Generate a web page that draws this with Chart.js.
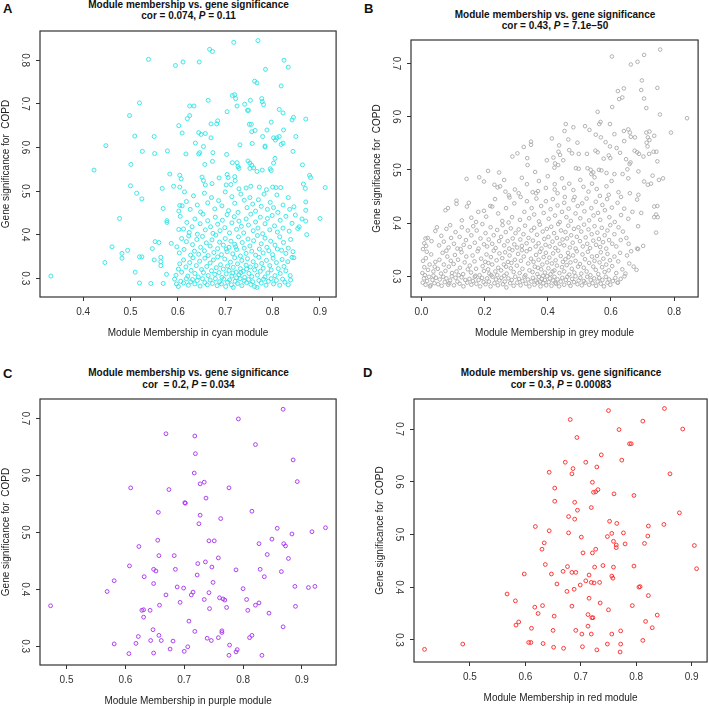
<!DOCTYPE html>
<html>
<head>
<meta charset="utf-8">
<script src="https://cdn.jsdelivr.net/npm/chart.js@4.4.0/dist/chart.umd.min.js"></script>
<style>
html, body { margin: 0; padding: 0; background: #fff; overflow: hidden; }
#wrap { position: relative; width: 709px; height: 707px; overflow: hidden; font-family: "Liberation Sans", Arial, sans-serif; color: #111; }
#wrap canvas { position: absolute; }
.titulo { position: absolute; width: 300px; text-align: center; font-weight: bold; font-size: 10px; line-height: 11.5px; white-space: pre; }
.letra { position: absolute; font-weight: bold; font-size: 13px; line-height: 13px; }
</style>
</head>
<body>
<div id="wrap">
  <div class="letra" style="left:3px;top:2px">A</div>
  <div class="letra" style="left:364px;top:1.5px">B</div>
  <div class="letra" style="left:3px;top:366.5px">C</div>
  <div class="letra" style="left:363px;top:365.5px">D</div>
  <div class="titulo" style="left:38.5px;top:-1.2px">Module membership vs. gene significance<br>cor = 0.074, <i>P</i> = 0.11</div>
  <div class="titulo" style="left:405px;top:8.5px">Module membership vs. gene significance<br>cor = 0.43, <i>P</i> = 7.1e−50</div>
  <div class="titulo" style="left:38.5px;top:367px">Module membership vs. gene significance<br>cor  = 0.2, <i>P</i> = 0.034</div>
  <div class="titulo" style="left:411px;top:367px">Module membership vs. gene significance<br>cor = 0.3, <i>P</i> = 0.00083</div>
</div>
<script>
// puntos [MM, GS]
const cyanPoints = [
  [0.718,0.841],[0.769,0.845],[0.667,0.825],[0.673,0.820],[0.538,0.802],[0.595,0.788],[0.611,0.796],[0.645,0.796],[0.824,0.800],[0.833,0.784],
  [0.785,0.779],[0.762,0.752],[0.767,0.748],[0.818,0.741],[0.519,0.702],[0.498,0.673],[0.625,0.695],[0.634,0.695],[0.664,0.708],[0.715,0.719],
  [0.720,0.721],[0.722,0.712],[0.725,0.695],[0.741,0.699],[0.753,0.708],[0.777,0.712],[0.778,0.705],[0.781,0.698],[0.704,0.682],[0.747,0.685],
  [0.749,0.685],[0.814,0.687],[0.822,0.679],[0.844,0.669],[0.841,0.663],[0.870,0.665],[0.625,0.673],[0.620,0.666],[0.602,0.650],[0.609,0.633],
  [0.682,0.654],[0.670,0.654],[0.684,0.661],[0.751,0.653],[0.755,0.653],[0.756,0.636],[0.763,0.639],[0.797,0.658],[0.788,0.640],[0.823,0.640],
  [0.814,0.625],[0.802,0.622],[0.806,0.617],[0.809,0.622],[0.779,0.625],[0.822,0.610],[0.818,0.607],[0.849,0.625],[0.784,0.603],[0.784,0.601],
  [0.757,0.609],[0.731,0.606],[0.644,0.634],[0.649,0.630],[0.658,0.632],[0.670,0.622],[0.637,0.610],[0.654,0.602],[0.674,0.588],[0.646,0.588],
  [0.644,0.585],[0.617,0.585],[0.578,0.592],[0.550,0.625],[0.509,0.626],[0.525,0.591],[0.551,0.586],[0.448,0.604],[0.423,0.548],[0.501,0.561],
  [0.657,0.561],[0.673,0.568],[0.703,0.584],[0.715,0.565],[0.725,0.565],[0.727,0.556],[0.729,0.552],[0.748,0.569],[0.752,0.564],[0.756,0.559],
  [0.760,0.553],[0.767,0.545],[0.752,0.552],[0.778,0.548],[0.795,0.551],[0.797,0.547],[0.802,0.564],[0.805,0.575],[0.843,0.591],[0.863,0.560],
  [0.878,0.536],[0.880,0.531],[0.583,0.539],[0.604,0.536],[0.607,0.528],[0.651,0.532],[0.654,0.524],[0.687,0.530],[0.704,0.538],[0.706,0.531],
  [0.720,0.533],
  [0.332,0.305],[0.446,0.336],[0.461,0.372],[0.477,0.437],[0.482,0.357],[0.482,0.346],[0.494,0.364],[0.510,0.314],[0.519,0.289],[0.519,0.349],
  [0.524,0.349],[0.543,0.288],[0.546,0.368],[0.550,0.342],[0.552,0.384],[0.560,0.382],[0.564,0.348],[0.564,0.338],[0.564,0.329],[0.569,0.288],
  [0.569,0.460],[0.576,0.309],[0.577,0.432],[0.577,0.428],[0.586,0.380],[0.500,0.512],[0.513,0.495],[0.524,0.482],[0.567,0.506],[0.591,0.511],
  [0.604,0.509],[0.614,0.498],[0.604,0.467],[0.609,0.466],[0.602,0.454],[0.602,0.412],
  [0.865,0.516],[0.869,0.506],[0.911,0.508],[0.809,0.491],[0.833,0.485],[0.870,0.475],[0.870,0.456],[0.870,0.431],[0.872,0.400],[0.853,0.414],
  [0.900,0.437],[0.807,0.508],[0.817,0.508],
  [0.593,0.298],[0.597,0.287],[0.601,0.281],[0.606,0.293],[0.612,0.289],[0.618,0.299],[0.622,0.284],[0.627,0.292],[0.631,0.297],[0.636,0.287],
  [0.641,0.295],[0.647,0.282],[0.652,0.299],[0.657,0.290],[0.662,0.285],[0.668,0.296],[0.673,0.288],[0.679,0.299],[0.683,0.283],[0.688,0.292],
  [0.692,0.287],[0.697,0.298],[0.701,0.281],[0.705,0.291],[0.709,0.296],[0.713,0.285],[0.717,0.279],[0.721,0.293],[0.726,0.288],[0.731,0.299],
  [0.735,0.283],[0.740,0.294],[0.745,0.290],[0.749,0.297],[0.754,0.286],[0.758,0.292],[0.762,0.281],[0.767,0.279],[0.771,0.295],[0.776,0.289],
  [0.781,0.298],[0.786,0.284],[0.791,0.293],[0.797,0.299],[0.802,0.287],[0.808,0.295],[0.815,0.284],[0.821,0.298],[0.826,0.291],[0.833,0.285],
  [0.838,0.296],
  [0.596,0.307],[0.601,0.321],[0.604,0.333],[0.608,0.314],[0.612,0.342],[0.617,0.326],[0.621,0.305],[0.625,0.336],[0.628,0.318],[0.632,0.347],
  [0.636,0.311],[0.639,0.329],[0.643,0.303],[0.646,0.339],[0.650,0.320],[0.654,0.313],[0.657,0.346],[0.661,0.327],[0.664,0.306],[0.668,0.335],
  [0.671,0.317],[0.675,0.342],[0.678,0.309],[0.681,0.324],[0.684,0.349],[0.687,0.313],[0.690,0.331],[0.693,0.302],[0.696,0.321],[0.699,0.344],
  [0.702,0.310],[0.705,0.328],[0.708,0.318],[0.711,0.337],[0.714,0.305],[0.717,0.325],[0.720,0.347],[0.723,0.314],[0.726,0.333],[0.729,0.308],
  [0.732,0.322],[0.735,0.341],[0.738,0.316],[0.741,0.302],[0.744,0.330],[0.747,0.345],[0.750,0.311],[0.753,0.326],[0.756,0.304],[0.759,0.338],
  [0.762,0.319],[0.765,0.329],[0.768,0.307],[0.771,0.348],[0.774,0.316],[0.777,0.334],[0.780,0.323],[0.784,0.303],[0.787,0.341],[0.790,0.312],
  [0.794,0.329],[0.797,0.319],[0.801,0.346],[0.805,0.306],[0.808,0.336],[0.812,0.322],[0.816,0.311],[0.820,0.343],[0.824,0.327],[0.828,0.317],
  [0.832,0.338],[0.837,0.306],[0.841,0.348],[0.845,0.347],[0.716,0.312],[0.724,0.301],[0.733,0.313],[0.745,0.321],
  [0.598,0.372],[0.603,0.358],[0.608,0.391],[0.613,0.366],[0.618,0.384],[0.623,0.397],[0.627,0.353],[0.631,0.377],[0.635,0.362],[0.640,0.389],
  [0.644,0.355],[0.648,0.371],[0.652,0.396],[0.656,0.363],[0.660,0.381],[0.664,0.352],[0.668,0.374],[0.672,0.388],[0.676,0.359],[0.680,0.399],
  [0.684,0.368],[0.688,0.383],[0.692,0.354],[0.696,0.376],[0.700,0.391],[0.704,0.361],[0.708,0.371],[0.712,0.385],[0.716,0.356],[0.720,0.378],
  [0.724,0.366],[0.728,0.395],[0.732,0.351],[0.736,0.382],[0.740,0.369],[0.744,0.357],[0.748,0.390],[0.752,0.374],[0.756,0.362],[0.760,0.386],
  [0.764,0.353],[0.768,0.398],[0.772,0.367],[0.776,0.379],[0.780,0.358],[0.784,0.392],[0.788,0.371],[0.792,0.363],[0.796,0.385],[0.800,0.354],
  [0.805,0.376],[0.810,0.367],[0.815,0.395],[0.819,0.364],[0.823,0.382],[0.828,0.357],[0.833,0.369],[0.838,0.389],[0.843,0.361],[0.722,0.372],
  [0.702,0.367],
  [0.605,0.442],[0.612,0.413],[0.619,0.428],[0.624,0.405],[0.630,0.418],[0.636,0.436],[0.641,0.401],[0.647,0.425],[0.653,0.447],[0.658,0.411],
  [0.663,0.432],[0.669,0.418],[0.674,0.403],[0.679,0.440],[0.684,0.424],[0.689,0.409],[0.694,0.433],[0.699,0.416],[0.704,0.446],[0.709,0.404],
  [0.714,0.427],[0.719,0.441],[0.724,0.412],[0.729,0.431],[0.734,0.419],[0.739,0.404],[0.744,0.436],[0.749,0.422],[0.754,0.447],[0.759,0.409],
  [0.764,0.429],[0.769,0.415],[0.774,0.440],[0.779,0.402],[0.784,0.425],[0.789,0.437],[0.794,0.411],[0.799,0.444],[0.804,0.420],[0.810,0.406],
  [0.816,0.433],[0.822,0.415],[0.828,0.442],[0.835,0.408],[0.841,0.426],[0.848,0.445],[0.856,0.418],[0.862,0.436],
  [0.618,0.476],[0.626,0.458],[0.633,0.489],[0.641,0.468],[0.648,0.452],[0.656,0.495],[0.663,0.473],[0.671,0.485],[0.678,0.459],[0.686,0.478],
  [0.693,0.466],[0.700,0.498],[0.707,0.455],[0.714,0.487],[0.720,0.472],[0.727,0.451],[0.733,0.493],[0.740,0.479],[0.746,0.462],[0.752,0.485],
  [0.758,0.470],[0.764,0.454],[0.770,0.480],[0.776,0.465],[0.782,0.493],[0.789,0.458],[0.795,0.474],[0.802,0.462],[0.811,0.451],[0.822,0.468],
  [0.836,0.458],[0.845,0.464],[0.658,0.514],[0.672,0.517],[0.702,0.514],[0.712,0.515],[0.729,0.505],[0.744,0.507],[0.754,0.511],[0.772,0.509],
  [0.787,0.503],[0.800,0.509],[0.721,0.524]
];

const greyPoints = [
  [0.756,0.726],[0.603,0.713],[0.705,0.716],[0.684,0.703],[0.663,0.698],[0.698,0.668],[0.696,0.650],[0.747,0.654],[0.705,0.634],[0.712,0.616],
  [0.622,0.648],[0.641,0.653],[0.626,0.633],[0.636,0.636],[0.604,0.618],[0.558,0.609],[0.755,0.604],[0.841,0.597],[0.567,0.590],[0.563,0.586],
  [0.597,0.586],[0.457,0.586],[0.481,0.580],[0.518,0.582],[0.532,0.575],[0.453,0.573],[0.552,0.566],[0.611,0.567],[0.641,0.573],[0.655,0.576],
  [0.660,0.570],[0.676,0.561],[0.663,0.562],[0.712,0.570],[0.722,0.572],[0.737,0.564],[0.717,0.561],[0.722,0.556],[0.790,0.570],[0.413,0.559],
  [0.465,0.557],[0.436,0.546],[0.494,0.551],[0.568,0.561],[0.583,0.552],[0.597,0.544],[0.618,0.541],[0.642,0.554],[0.713,0.551],[0.716,0.544],
  [0.744,0.534],[0.347,0.553],[0.347,0.547],[0.324,0.543],[0.434,0.534],[0.439,0.528],[0.468,0.537],[0.477,0.531],[0.498,0.530],[0.524,0.530],
  [0.551,0.536],[0.558,0.533],[0.577,0.521],[0.593,0.527],[0.598,0.522],[0.629,0.532],[0.648,0.520],[0.675,0.536],[0.683,0.533],[0.689,0.530],
  [0.703,0.525],[0.721,0.530],[0.735,0.534],[0.747,0.516],[0.288,0.525],[0.304,0.531],[0.335,0.522],[0.336,0.509],[0.397,0.518],[0.418,0.523],
  [0.423,0.512],[0.421,0.504],[0.433,0.509],[0.449,0.518],[0.489,0.503],[0.498,0.502],[0.526,0.503],[0.536,0.500],[0.538,0.492],[0.544,0.495],
  [0.562,0.500],[0.570,0.499],[0.586,0.494],[0.611,0.492],[0.637,0.492],[0.652,0.501],[0.659,0.511],[0.662,0.514],[0.687,0.497],[0.732,0.489],
  [0.765,0.484],[0.211,0.498],[0.246,0.495],[0.183,0.486],[0.143,0.483],[0.360,0.496],[0.400,0.488],
  [0.198,0.478],[0.262,0.481],[0.318,0.485],[0.372,0.479],[0.445,0.484],[0.503,0.481],[0.548,0.486],[0.602,0.479],[0.655,0.484],[0.705,0.478],
  [0.752,0.481],
  [0.231,0.472],[0.241,0.467],[0.249,0.469],[0.266,0.459],[0.277,0.452],[0.279,0.448],[0.296,0.463],[0.308,0.456],[0.314,0.449],[0.334,0.473],
  [0.352,0.458],[0.363,0.456],[0.369,0.460],[0.394,0.466],[0.422,0.473],[0.422,0.463],[0.431,0.456],[0.452,0.466],[0.454,0.449],[0.468,0.474],
  [0.481,0.462],[0.485,0.449],[0.513,0.468],[0.529,0.459],[0.540,0.474],[0.555,0.464],[0.565,0.451],[0.586,0.469],[0.593,0.453],[0.624,0.458],
  [0.632,0.449],[0.660,0.456],[0.683,0.444],[0.687,0.453],[0.717,0.472],[0.727,0.474],
  [0.076,0.424],[0.084,0.428],[0.111,0.442],[0.111,0.436],[0.150,0.438],[0.144,0.431],[0.180,0.421],[0.158,0.410],[0.198,0.423],[0.218,0.432],
  [0.224,0.431],[0.243,0.418],[0.256,0.404],[0.287,0.411],[0.312,0.406],[0.128,0.405],[0.173,0.402],[0.205,0.412],[0.233,0.445],[0.268,0.428],
  [0.294,0.437],[0.276,0.401],[0.326,0.421],[0.334,0.441],[0.341,0.409],[0.349,0.428],[0.357,0.416],[0.364,0.446],[0.372,0.403],[0.379,0.432],
  [0.387,0.419],[0.394,0.441],[0.403,0.408],[0.409,0.426],[0.416,0.445],[0.423,0.414],[0.431,0.433],[0.438,0.402],[0.445,0.421],[0.452,0.438],
  [0.459,0.411],[0.466,0.427],[0.473,0.404],[0.481,0.443],[0.488,0.418],[0.495,0.432],[0.503,0.409],[0.509,0.437],[0.516,0.422],[0.523,0.446],
  [0.531,0.405],[0.538,0.428],[0.545,0.414],[0.552,0.440],[0.559,0.419],[0.566,0.406],[0.573,0.434],[0.581,0.424],[0.588,0.445],[0.595,0.411],
  [0.603,0.429],[0.612,0.402],[0.621,0.438],[0.632,0.415],[0.642,0.427],[0.655,0.408],[0.668,0.421],[0.696,0.419],[0.737,0.431],[0.747,0.432],
  [0.743,0.416],[0.737,0.411],[0.748,0.411],[0.743,0.382],
  [0.005,0.351],[0.009,0.362],[0.015,0.357],[0.013,0.371],[0.020,0.372],[0.032,0.366],[0.044,0.385],[0.049,0.392],[0.056,0.358],[0.063,0.376],
  [0.071,0.365],[0.079,0.389],[0.086,0.354],[0.094,0.372],[0.091,0.396],[0.103,0.361],[0.108,0.383],[0.114,0.352],[0.121,0.374],[0.128,0.392],
  [0.134,0.359],[0.141,0.368],[0.147,0.386],[0.153,0.355],[0.158,0.377],[0.164,0.394],[0.169,0.363],[0.175,0.386],[0.181,0.352],[0.187,0.371],
  [0.193,0.398],[0.198,0.360],[0.203,0.381],[0.208,0.356],[0.213,0.369],[0.219,0.392],[0.224,0.361],[0.229,0.377],[0.235,0.353],[0.240,0.387],
  [0.246,0.366],[0.252,0.374],[0.257,0.396],[0.262,0.358],[0.267,0.383],[0.273,0.366],[0.278,0.352],[0.283,0.390],[0.289,0.371],[0.294,0.360],
  [0.298,0.381],[0.303,0.354],[0.308,0.388],[0.313,0.369],[0.318,0.357],[0.323,0.379],[0.328,0.395],[0.333,0.362],[0.339,0.372],[0.344,0.351],
  [0.348,0.386],[0.353,0.367],[0.357,0.391],[0.362,0.356],[0.366,0.378],[0.371,0.362],[0.375,0.397],[0.380,0.352],[0.384,0.384],[0.389,0.370],
  [0.393,0.359],[0.397,0.389],[0.402,0.374],[0.406,0.356],[0.411,0.393],[0.415,0.365],[0.420,0.381],[0.424,0.353],[0.429,0.372],[0.433,0.398],
  [0.438,0.361],[0.442,0.386],[0.447,0.369],[0.452,0.358],[0.456,0.383],[0.461,0.371],[0.465,0.395],[0.470,0.354],[0.474,0.377],[0.479,0.363],
  [0.483,0.389],[0.488,0.352],[0.492,0.374],[0.497,0.392],[0.502,0.366],[0.506,0.384],[0.511,0.356],[0.515,0.397],[0.520,0.373],[0.525,0.361],
  [0.529,0.388],[0.534,0.353],[0.539,0.379],[0.544,0.367],[0.548,0.394],[0.553,0.359],[0.557,0.382],[0.562,0.370],[0.566,0.355],[0.571,0.391],
  [0.575,0.364],[0.580,0.377],[0.585,0.352],[0.589,0.386],[0.594,0.368],[0.598,0.396],[0.604,0.361],[0.611,0.379],[0.617,0.356],[0.624,0.392],
  [0.631,0.368],[0.638,0.384],[0.649,0.372],[0.656,0.361],[0.683,0.352],[0.686,0.351],[0.702,0.357],[0.686,0.394],
  [0.003,0.306],[0.009,0.317],[0.005,0.329],[0.014,0.334],[0.021,0.312],[0.026,0.322],[0.031,0.341],[0.038,0.309],[0.044,0.327],[0.017,0.346],
  [0.042,0.318],[0.052,0.314],[0.057,0.331],[0.062,0.305],[0.067,0.344],[0.071,0.322],[0.076,0.310],[0.082,0.337],[0.087,0.318],[0.093,0.329],
  [0.097,0.306],[0.079,0.348],[0.102,0.323],[0.106,0.340],[0.111,0.309],[0.116,0.331],[0.122,0.316],[0.127,0.345],[0.132,0.304],[0.137,0.326],
  [0.142,0.337],[0.147,0.313],[0.124,0.351],[0.153,0.320],[0.157,0.307],[0.162,0.339],[0.168,0.328],[0.173,0.314],[0.178,0.347],[0.184,0.302],
  [0.189,0.333],[0.194,0.319],[0.198,0.310],[0.171,0.301],[0.202,0.327],[0.206,0.341],[0.211,0.313],[0.215,0.305],[0.220,0.336],[0.224,0.322],
  [0.229,0.348],[0.234,0.309],[0.238,0.330],[0.243,0.316],[0.247,0.343],[0.212,0.325],[0.240,0.302],[0.252,0.311],[0.256,0.334],[0.261,0.322],
  [0.265,0.345],[0.270,0.305],[0.274,0.327],[0.279,0.339],[0.283,0.315],[0.288,0.349],[0.292,0.308],[0.296,0.331],[0.268,0.318],[0.285,0.325],
  [0.302,0.320],[0.306,0.342],[0.311,0.306],[0.315,0.329],[0.320,0.314],[0.324,0.337],[0.329,0.302],[0.333,0.347],[0.338,0.324],[0.342,0.311],
  [0.347,0.333],[0.318,0.349],[0.352,0.308],[0.355,0.327],[0.359,0.318],[0.363,0.340],[0.367,0.304],[0.371,0.331],[0.375,0.346],[0.379,0.313],
  [0.383,0.322],[0.387,0.336],[0.391,0.307],[0.394,0.344],[0.398,0.326],[0.369,0.316],[0.385,0.301],[0.402,0.315],[0.405,0.335],[0.409,0.304],
  [0.413,0.324],[0.417,0.343],[0.421,0.311],[0.425,0.330],[0.429,0.320],[0.433,0.348],[0.437,0.306],[0.441,0.338],[0.445,0.317],[0.448,0.327],
  [0.415,0.309],[0.452,0.309],[0.456,0.332],[0.460,0.321],[0.464,0.344],[0.468,0.303],[0.472,0.326],[0.476,0.314],[0.480,0.339],[0.484,0.307],
  [0.488,0.329],[0.492,0.347],[0.496,0.318],[0.466,0.336],[0.502,0.323],[0.506,0.305],[0.510,0.341],[0.514,0.316],[0.518,0.332],[0.523,0.309],
  [0.527,0.346],[0.531,0.325],[0.535,0.302],[0.540,0.337],[0.544,0.318],[0.548,0.329],[0.552,0.312],[0.556,0.338],[0.560,0.304],[0.564,0.326],
  [0.568,0.345],[0.572,0.317],[0.576,0.333],[0.580,0.308],[0.585,0.322],[0.589,0.342],[0.593,0.311],[0.597,0.330],[0.604,0.319],[0.611,0.337],
  [0.617,0.306],[0.623,0.328],[0.629,0.344],[0.636,0.313],[0.643,0.300],[0.646,0.305],[0.651,0.339],[0.658,0.324],[0.664,0.347],[0.672,0.318],
  [0.681,0.312],
  [0.004,0.288],[0.008,0.296],[0.013,0.284],[0.018,0.291],[0.024,0.299],[0.029,0.283],[0.035,0.293],[0.041,0.287],[0.046,0.297],[0.011,0.302],
  [0.027,0.281],[0.038,0.301],[0.053,0.285],[0.058,0.294],[0.064,0.282],[0.069,0.299],[0.074,0.289],[0.079,0.296],[0.085,0.284],[0.091,0.292],
  [0.096,0.300],[0.088,0.287],[0.103,0.283],[0.108,0.297],[0.114,0.290],[0.121,0.286],[0.127,0.298],[0.133,0.281],[0.139,0.293],[0.145,0.288],
  [0.118,0.302],[0.152,0.295],[0.158,0.284],[0.163,0.291],[0.169,0.299],[0.174,0.286],[0.181,0.293],[0.186,0.281],[0.192,0.297],[0.197,0.289],
  [0.203,0.285],[0.208,0.296],[0.214,0.290],[0.219,0.281],[0.225,0.299],[0.231,0.287],[0.236,0.294],[0.242,0.283],[0.247,0.292],[0.221,0.302],
  [0.253,0.297],[0.258,0.285],[0.264,0.290],[0.269,0.279],[0.275,0.296],[0.281,0.287],[0.286,0.293],[0.292,0.282],[0.297,0.299],[0.262,0.301],
  [0.303,0.288],[0.309,0.295],[0.314,0.283],[0.320,0.291],[0.326,0.299],[0.331,0.286],[0.337,0.294],[0.342,0.281],[0.348,0.290],[0.353,0.297],
  [0.358,0.284],[0.362,0.292],[0.367,0.288],[0.372,0.299],[0.377,0.281],[0.381,0.295],[0.386,0.287],[0.391,0.293],[0.395,0.283],[0.398,0.300],
  [0.375,0.290],[0.403,0.289],[0.407,0.296],[0.412,0.282],[0.417,0.292],[0.421,0.299],[0.426,0.286],[0.431,0.294],[0.436,0.281],[0.441,0.290],
  [0.446,0.297],[0.424,0.288],[0.452,0.284],[0.457,0.293],[0.462,0.299],[0.467,0.287],[0.472,0.282],[0.477,0.295],[0.483,0.289],[0.488,0.300],
  [0.494,0.285],[0.498,0.292],[0.503,0.297],[0.508,0.283],[0.514,0.291],[0.519,0.288],[0.525,0.299],[0.531,0.284],[0.536,0.293],[0.542,0.287],
  [0.547,0.296],[0.553,0.282],[0.558,0.290],[0.563,0.297],[0.568,0.286],[0.573,0.293],[0.578,0.281],[0.584,0.299],[0.589,0.288],[0.594,0.294],
  [0.598,0.284],[0.606,0.291],[0.614,0.297],[0.622,0.288],[0.631,0.295],[0.621,0.288]
];

const purplePoints = [
  [0.609,0.578],[0.669,0.673],[0.718,0.669],[0.719,0.638],[0.717,0.604],[0.727,0.585],[0.734,0.588],[0.737,0.560],[0.674,0.575],[0.701,0.552],
  [0.702,0.551],[0.656,0.535],[0.727,0.530],[0.725,0.515],[0.762,0.524],[0.776,0.578],[0.792,0.699],[0.821,0.654],[0.868,0.716],[0.885,0.627],
  [0.892,0.589],[0.815,0.537],[0.858,0.507],[0.883,0.497],[0.917,0.501],[0.940,0.508],
  [0.655,0.486],[0.623,0.475],[0.742,0.485],[0.751,0.485],[0.827,0.480],[0.849,0.488],[0.869,0.480],[0.872,0.476],[0.877,0.454],[0.657,0.459],
  [0.683,0.459],[0.758,0.455],[0.723,0.445],[0.736,0.448],[0.607,0.441],[0.648,0.435],[0.652,0.432],[0.685,0.435],[0.747,0.439],[0.722,0.425],
  [0.632,0.422],[0.788,0.434],[0.829,0.435],[0.841,0.461],[0.836,0.422],[0.865,0.431],[0.581,0.415],[0.648,0.410],[0.749,0.412],[0.688,0.404],
  [0.699,0.402],[0.800,0.401],[0.888,0.405],[0.911,0.403],[0.922,0.405],[0.569,0.396],[0.669,0.390],[0.715,0.395],[0.712,0.390],[0.742,0.394],
  [0.734,0.382],[0.760,0.385],[0.766,0.383],[0.769,0.381],[0.806,0.382],[0.827,0.376],[0.821,0.372],[0.693,0.377],[0.658,0.372],[0.743,0.366],
  [0.772,0.368],[0.808,0.363],[0.844,0.358],[0.889,0.370],[0.473,0.371],[0.628,0.363],[0.631,0.364],[0.642,0.363],[0.631,0.351],[0.708,0.344],
  [0.647,0.329],[0.718,0.326],[0.764,0.327],[0.764,0.324],[0.868,0.334],[0.657,0.319],[0.622,0.317],[0.643,0.310],[0.661,0.310],[0.681,0.309],
  [0.739,0.314],[0.746,0.310],[0.758,0.315],[0.811,0.315],[0.815,0.319],[0.581,0.304],[0.618,0.305],[0.676,0.295],[0.706,0.299],[0.700,0.291],
  [0.777,0.302],[0.790,0.294],[0.788,0.290],[0.606,0.287],[0.648,0.288],[0.776,0.284],[0.832,0.284]
];

const redPoints = [
  [0.750,0.735],[0.851,0.739],[0.681,0.718],[0.812,0.715],[0.769,0.699],[0.884,0.700],[0.693,0.684],[0.788,0.672],[0.791,0.672],[0.737,0.651],
  [0.672,0.637],[0.709,0.637],[0.774,0.641],[0.686,0.625],[0.729,0.628],[0.643,0.618],[0.684,0.615],[0.861,0.615],[0.721,0.599],[0.653,0.588],
  [0.723,0.580],[0.727,0.581],[0.731,0.585],[0.760,0.577],[0.796,0.574],[0.653,0.563],[0.689,0.561],[0.694,0.546],[0.719,0.551],[0.878,0.541],
  [0.678,0.534],[0.689,0.529],[0.752,0.525],[0.765,0.521],[0.822,0.516],[0.850,0.519],[0.618,0.515],[0.643,0.507],[0.678,0.503],[0.756,0.502],
  [0.777,0.503],[0.821,0.497],[0.701,0.495],[0.748,0.496],
  [0.759,0.487],[0.634,0.484],[0.780,0.482],[0.764,0.480],[0.764,0.475],[0.815,0.483],[0.905,0.479],[0.630,0.472],[0.727,0.472],[0.721,0.465],
  [0.704,0.465],[0.636,0.443],[0.676,0.439],[0.725,0.438],[0.740,0.441],[0.759,0.438],[0.796,0.440],[0.909,0.435],[0.668,0.430],[0.684,0.428],
  [0.691,0.428],[0.647,0.425],[0.598,0.425],[0.715,0.423],[0.756,0.421],[0.758,0.417],[0.709,0.412],[0.719,0.409],[0.724,0.408],[0.734,0.409],
  [0.657,0.406],[0.699,0.404],[0.805,0.400],[0.807,0.401],[0.688,0.396],[0.675,0.392],[0.567,0.387],[0.582,0.374],[0.715,0.379],[0.822,0.384],
  [0.735,0.370],[0.617,0.362],[0.631,0.365],[0.684,0.364],[0.793,0.365],[0.750,0.357],[0.623,0.350],[0.713,0.348],[0.720,0.342],[0.722,0.342],
  [0.652,0.345],[0.838,0.347],[0.588,0.334],[0.583,0.328],[0.817,0.335],[0.713,0.326],[0.611,0.322],[0.829,0.323],[0.650,0.318],[0.691,0.318],
  [0.772,0.317],[0.702,0.311],[0.719,0.311],[0.756,0.311],[0.812,0.299],[0.606,0.295],[0.610,0.295],[0.632,0.293],[0.748,0.292],[0.772,0.292],
  [0.487,0.292],[0.418,0.282],[0.651,0.286],[0.669,0.284],[0.703,0.287],[0.729,0.281],[0.771,0.277]
];

const cyanXTicks = [0.4, 0.5, 0.6, 0.7, 0.8, 0.9];
const cyanYTicks = [0.3, 0.4, 0.5, 0.6, 0.7, 0.8];
const greyXTicks = [0.0, 0.2, 0.4, 0.6, 0.8];
const greyYTicks = [0.3, 0.4, 0.5, 0.6, 0.7];
const purpleXTicks = [0.5, 0.6, 0.7, 0.8, 0.9];
const purpleYTicks = [0.3, 0.4, 0.5, 0.6, 0.7];
const redXTicks = [0.5, 0.6, 0.7, 0.8, 0.9];
const redYTicks = [0.3, 0.4, 0.5, 0.6, 0.7];

const FUENTE = "'Liberation Sans', Arial, sans-serif";
const ANCHO_Y = 40, ALTO_X = 44, MARGEN_SUP = 14, MARGEN_DER = 4;

// caja del grafico: [izq, arriba, der, abajo] en px
const paneles = [
  { puntos: cyanPoints, color: '#2ae4e4', radio: 2, caja: [40, 31, 337, 297], xMin: 0.309, xMax: 0.934, yMin: 0.257, yMax: 0.867, xTicks: cyanXTicks, yTicks: cyanYTicks, xTitulo: 'Module Membership in cyan module' },
  { puntos: greyPoints, color: '#a9a9a9', radio: 1.8, caja: [411, 40, 699, 297], xMin: -0.033, xMax: 0.876, yMin: 0.261, yMax: 0.744, xTicks: greyXTicks, yTicks: greyYTicks, xTitulo: 'Module Membership in grey module' },
  { puntos: purplePoints, color: '#a42ef0', radio: 1.9, caja: [40, 399, 337, 665], xMin: 0.455, xMax: 0.958, yMin: 0.267, yMax: 0.734, xTicks: purpleXTicks, yTicks: purpleYTicks, xTitulo: 'Module Membership in purple module' },
  { puntos: redPoints, color: '#ff2424', radio: 1.9, caja: [414, 399, 708, 662], xMin: 0.399, xMax: 0.928, yMin: 0.258, yMax: 0.757, xTicks: redXTicks, yTicks: redYTicks, xTitulo: 'Module Membership in red module' }
];

const marco = {
  id: 'marco',
  afterDatasetsDraw(chart) {
    const { ctx, chartArea: a } = chart;
    ctx.save();
    ctx.strokeStyle = '#333';
    ctx.lineWidth = 1.2;
    ctx.strokeRect(a.left, a.top, a.right - a.left, a.bottom - a.top);
    ctx.restore();
  }
};

function crearPanel(p) {
  const cv = document.createElement('canvas');
  const ancho = p.caja[2] - p.caja[0];
  const alto = p.caja[3] - p.caja[1];
  cv.width = ANCHO_Y + ancho + MARGEN_DER;
  cv.height = MARGEN_SUP + alto + ALTO_X;
  cv.style.left = (p.caja[0] - ANCHO_Y) + 'px';
  cv.style.top = (p.caja[1] - MARGEN_SUP) + 'px';
  document.getElementById('wrap').appendChild(cv);

  const rejilla = { drawOnChartArea: false, drawTicks: true, tickLength: 4, color: '#333', lineWidth: 1 };

  new Chart(cv.getContext('2d'), {
    type: 'scatter',
    data: {
      datasets: [{
        data: p.puntos.map(([x, y]) => ({ x, y })),
        borderColor: p.color,
        backgroundColor: 'rgba(0,0,0,0)',
        pointRadius: p.radio,
        borderWidth: 0.9
      }]
    },
    options: {
      responsive: false,
      animation: false,
      events: [],
      layout: { padding: { top: MARGEN_SUP, right: MARGEN_DER, left: 0, bottom: 0 } },
      plugins: { legend: { display: false }, tooltip: { enabled: false } },
      scales: {
        x: {
          type: 'linear', min: p.xMin, max: p.xMax,
          afterBuildTicks: s => { s.ticks = p.xTicks.map(v => ({ value: v })); },
          afterFit: s => { s.height = ALTO_X; },
          grid: rejilla,
          border: { display: false },
          ticks: { color: '#333', font: { size: 10, family: FUENTE }, padding: 5.5, autoSkip: false, maxRotation: 0, minRotation: 0, callback: v => v.toFixed(1) },
          title: { display: true, text: p.xTitulo, color: '#222', font: { size: 10, family: FUENTE }, padding: { top: 0, bottom: 2 } }
        },
        y: {
          type: 'linear', min: p.yMin, max: p.yMax,
          afterBuildTicks: s => { s.ticks = p.yTicks.map(v => ({ value: v })); },
          afterFit: s => { s.width = ANCHO_Y; },
          grid: rejilla,
          border: { display: false },
          ticks: { color: '#333', font: { size: 10, family: FUENTE }, padding: 4.5, autoSkip: false, minRotation: -90, crossAlign: 'center', callback: v => v.toFixed(1) },
          title: { display: true, text: 'Gene significance for  COPD', color: '#222', font: { size: 10, family: FUENTE }, padding: { top: 0, bottom: 0 } }
        }
      }
    },
    plugins: [marco]
  });
}

paneles.forEach(crearPanel);
</script>
</body>
</html>
